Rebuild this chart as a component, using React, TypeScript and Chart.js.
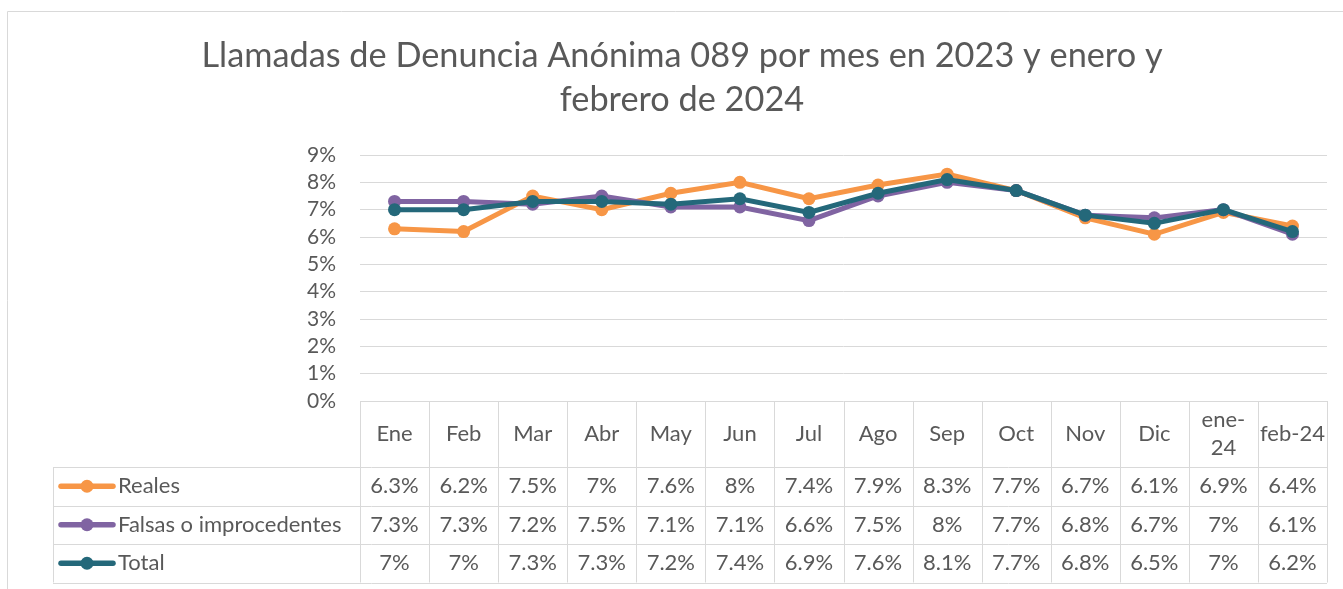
import React, { useEffect, useRef } from "react";
import { Chart, registerables } from "chart.js";

Chart.register(...registerables);

const titleLines = [
  "Llamadas de Denuncia Anónima 089 por mes en 2023 y enero y",
  "febrero de 2024",
];
const categories = ["Ene", "Feb", "Mar", "Abr", "May", "Jun", "Jul", "Ago", "Sep", "Oct", "Nov", "Dic", "ene-24", "feb-24"];
const categoryHeaderLines = [["Ene"], ["Feb"], ["Mar"], ["Abr"], ["May"], ["Jun"], ["Jul"], ["Ago"], ["Sep"], ["Oct"], ["Nov"], ["Dic"], ["ene-", "24"], ["feb-24"]];
const seriesNames = ["Reales", "Falsas o improcedentes", "Total"];
const reales = [6.3, 6.2, 7.5, 7, 7.6, 8, 7.4, 7.9, 8.3, 7.7, 6.7, 6.1, 6.9, 6.4];
const falsas = [7.3, 7.3, 7.2, 7.5, 7.1, 7.1, 6.6, 7.5, 8, 7.7, 6.8, 6.7, 7, 6.1];
const total = [7, 7, 7.3, 7.3, 7.2, 7.4, 6.9, 7.6, 8.1, 7.7, 6.8, 6.5, 7, 6.2];
const seriesColors = ["#F79646", "#8064A2", "#24687A"];
const yTicks = [0, 1, 2, 3, 4, 5, 6, 7, 8, 9];

const FONT = "Lato, 'Open Sans', sans-serif";
const TEXT = "#595959";
const GRID = "#D9D9D9";

const tablePlugin = {
  id: "excelDataTable",
  afterDraw(chart: any) {
    const ctx = chart.ctx as CanvasRenderingContext2D;
    const { left, right, bottom } = chart.chartArea;
    const n = categories.length;
    const colW = (right - left) / n;
    const headerH = 66;
    const rowH = 38.5;
    const legendLeft = 53;
    const rowTops = [bottom + headerH, bottom + headerH + rowH, bottom + headerH + 2 * rowH];
    const tableBottom = bottom + headerH + 3 * rowH;

    ctx.save();
    // outer chart frame
    ctx.strokeStyle = GRID;
    ctx.lineWidth = 1;
    ctx.beginPath();
    ctx.moveTo(7.5, chart.height);
    ctx.lineTo(7.5, 11.5);
    ctx.lineTo(chart.width, 11.5);
    ctx.stroke();

    // title
    ctx.fillStyle = TEXT;
    ctx.font = `34.3px ${FONT}`;
    ctx.textAlign = "center";
    ctx.textBaseline = "middle";
    titleLines.forEach((t, i) => ctx.fillText(t, 682, 56 + i * 44));

    // table grid
    ctx.strokeStyle = GRID;
    ctx.lineWidth = 1;
    ctx.beginPath();
    for (let i = 0; i <= n; i++) {
      const x = Math.round(left + i * colW) + 0.5;
      ctx.moveTo(x, bottom);
      ctx.lineTo(x, tableBottom);
    }
    ctx.moveTo(legendLeft + 0.5, rowTops[0]);
    ctx.lineTo(legendLeft + 0.5, tableBottom);
    [...rowTops, tableBottom].forEach((y) => {
      const yy = Math.round(y) + 0.5;
      ctx.moveTo(legendLeft, yy);
      ctx.lineTo(right, yy);
    });
    ctx.stroke();

    // header labels
    ctx.fillStyle = TEXT;
    ctx.font = `22px ${FONT}`;
    ctx.textAlign = "center";
    ctx.textBaseline = "middle";
    categoryHeaderLines.forEach((lines, i) => {
      const cx = left + (i + 0.5) * colW;
      const cy = bottom + headerH / 2;
      const lh = 28;
      lines.forEach((l, j) => {
        ctx.fillText(l, cx, cy + (j - (lines.length - 1) / 2) * lh);
      });
    });

    // rows
    const allSeries = [reales, falsas, total];
    allSeries.forEach((vals, r) => {
      const cy = rowTops[r] + rowH / 2;
      // legend key
      ctx.strokeStyle = seriesColors[r];
      ctx.lineWidth = 5.5;
      ctx.lineCap = "round";
      ctx.beginPath();
      ctx.moveTo(61, cy);
      ctx.lineTo(113, cy);
      ctx.stroke();
      ctx.fillStyle = seriesColors[r];
      ctx.beginPath();
      ctx.arc(87, cy, 6.5, 0, Math.PI * 2);
      ctx.fill();
      ctx.fillStyle = TEXT;
      ctx.textAlign = "left";
      ctx.fillText(seriesNames[r], 118, cy);
      ctx.textAlign = "center";
      vals.forEach((v, i) => {
        ctx.fillText(`${v}%`, left + (i + 0.5) * colW, cy);
      });
    });
    ctx.restore();
  },
};

export default function App() {
  const ref = useRef<HTMLCanvasElement | null>(null);
  useEffect(() => {
    if (!ref.current) return;
    const mk = (i: number, data: number[], order: number) => ({
      label: seriesNames[i],
      data,
      borderColor: seriesColors[i],
      backgroundColor: seriesColors[i],
      pointBackgroundColor: seriesColors[i],
      pointBorderColor: seriesColors[i],
      borderWidth: 5,
      pointRadius: 6.5,
      pointBorderWidth: 0,
      tension: 0,
      order,
    });
    const chart = new Chart(ref.current, {
      type: "line",
      data: {
        labels: categories,
        datasets: [mk(0, reales, 3), mk(1, falsas, 2), mk(2, total, 1)],
      },
      options: {
        responsive: false,
        animation: false,
        layout: { padding: { left: 300, right: 16, top: 155, bottom: 188 } },
        plugins: { legend: { display: false }, title: { display: false }, tooltip: { enabled: false } },
        scales: {
          x: { display: false, offset: true },
          y: {
            min: 0,
            max: 9,
            afterFit: (s: any) => {
              s.width = 60;
            },
            afterBuildTicks: (s: any) => {
              s.ticks = yTicks.map((v) => ({ value: v }));
            },
            border: { display: false },
            grid: { color: GRID, lineWidth: 1, drawTicks: false },
            ticks: {
              autoSkip: false,
              padding: 24,
              color: TEXT,
              font: { family: FONT, size: 21 },
              callback: (v: any) => `${v}%`,
            },
          },
        },
      },
      plugins: [tablePlugin],
    });
    return () => chart.destroy();
  }, []);
  return (
    <div style={{ position: "absolute", left: 0, top: 0, width: 1343, height: 589, background: "#fff" }}>
      <canvas ref={ref} width={1343} height={589} style={{ display: "block" }} />
    </div>
  );
}
